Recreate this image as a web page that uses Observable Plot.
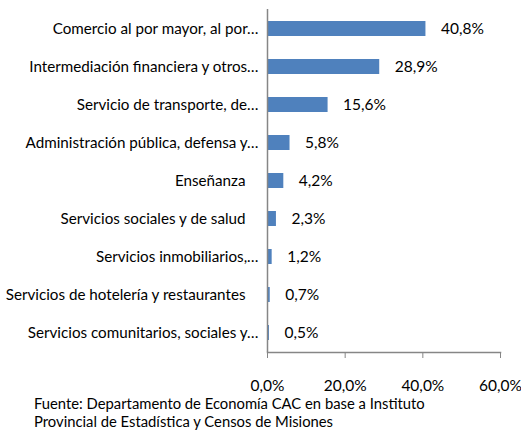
<!DOCTYPE html>
<html>
<head>
<meta charset="utf-8">
<script src="https://cdn.jsdelivr.net/npm/d3@7"></script>
<script src="https://cdn.jsdelivr.net/npm/@observablehq/plot@0.6"></script>
<style>
  body { margin: 0; background: #fff; font-family: Lato, sans-serif; }
  #caption { font-size: 14.8px; line-height: 18px; padding-left: 34px; color: #000; margin-top: -1px; }
</style>
</head>
<body>
<div id="chart"></div>
<div id="caption">Fuente: Departamento de Economía CAC en base a Instituto<br>Provincial de Estadística y Censos de Misiones</div>
<script>
const categories = [
  "Comercio al por mayor, al por…",
  "Intermediación financiera y otros…",
  "Servicio de transporte, de…",
  "Administración pública, defensa y…",
  "Enseñanza",
  "Servicios sociales y de salud",
  "Servicios inmobiliarios,…",
  "Servicios de hotelería y restaurantes",
  "Servicios comunitarios, sociales y…"
];
const values = [40.8, 28.9, 15.6, 5.8, 4.2, 2.3, 1.2, 0.7, 0.5];
const xTicks = [0, 20, 40, 60];

const data = categories.map((c, i) => ({category: c, value: values[i]}));
const fmt = v => v.toFixed(1).replace(".", ",") + "%";
const axisColor = "#868686";

const chart = Plot.plot({
  width: 521,
  height: 395,
  marginLeft: 267,
  marginRight: 21,
  marginTop: 9,
  marginBottom: 43,
  style: {fontFamily: "Lato, sans-serif", fontSize: "15px", color: "#000"},
  x: {domain: [0, 60]},
  y: {domain: categories, paddingInner: 0.6, paddingOuter: 0.3},
  marks: [
    Plot.barX(data, {x: "value", y: "category", fill: "#4F81BD"}),
    Plot.text(data, {
      x: "value", y: "category", text: d => fmt(d.value),
      textAnchor: "start", dx: 15, fill: "#000", fontSize: 15.5
    }),
    Plot.text(data, {
      x: d => 0, y: "category", text: "category",
      textAnchor: "end", fill: "#000", fontSize: 15.2
    }),
    Plot.ruleX([0], {stroke: axisColor, strokeWidth: 1.5}),
    Plot.frame({anchor: "bottom", stroke: axisColor, strokeWidth: 1.5}),
    Plot.axisX({ticks: xTicks, tickFormat: fmt, tickSize: 6, tickPadding: 21, stroke: axisColor, fill: "#000", label: null, fontSize: 15.5}),
    Plot.axisY({ticks: [], label: null})
  ]
});

// shift category labels: truncated ones sit closer to axis
d3.select(chart).selectAll("g[aria-label='text']").filter((d, i) => i === 1)
  .selectAll("text").each(function() {
    const t = this.textContent;
    d3.select(this).attr("dx", t.endsWith("…") ? -9 : -22);
  });

document.getElementById("chart").appendChild(chart);
</script>
</body>
</html>
